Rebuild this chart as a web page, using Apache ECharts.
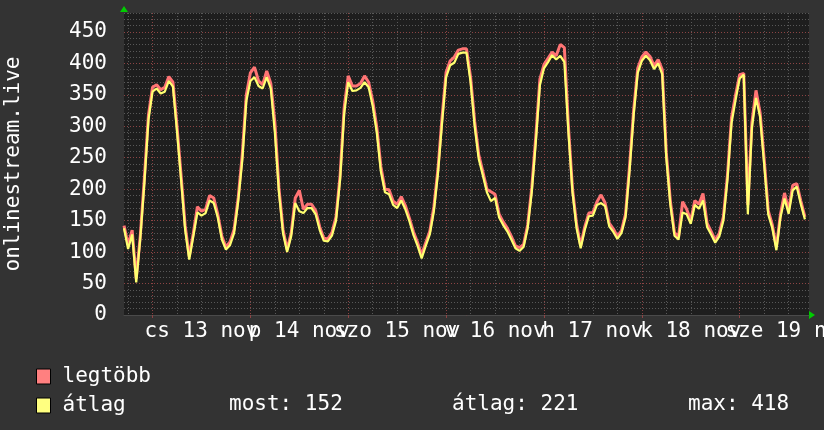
<!DOCTYPE html>
<html><head><meta charset="utf-8">
<script src="https://cdn.jsdelivr.net/npm/echarts@6/dist/echarts.min.js"></script>
<style>html,body{margin:0;padding:0;background:#333333;}#c{width:824px;height:430px;}</style>
</head><body><div id="c"></div>
<script>
// hours relative to 13 Nov 00:00
const START_HOUR = -7;
const END_HOUR = 161;
const dayLabels = ['cs 13 nov', 'p 14 nov', 'szo 15 nov', 'v 16 nov', 'h 17 nov', 'k 18 nov', 'sze 19 nov'];
const yTickStep = 50;
const seriesNames = ['legtöbb', 'átlag'];
const statLabels = ['most: 152', 'átlag: 221', 'max: 418'];
const yAxisName = 'onlinestream.live';

// átlag (average), one value per hour from START_HOUR
const avgValues = [
  138,105,128,52,122,210,310,
  355,360,352,355,372,363,292,215,135,88,125,163,158,162,182,178,155,120,104,111,130,180,245,340,
  372,378,364,360,378,360,290,195,130,100,125,178,165,162,170,170,160,135,118,117,126,150,215,320,
  370,356,357,361,370,362,332,290,228,195,192,175,170,182,168,149,127,110,90,110,128,165,225,305,
  378,397,401,415,417,417,370,300,248,222,195,181,186,155,143,133,120,106,102,108,138,195,275,365,
  392,402,413,406,412,402,290,195,138,106,135,157,158,175,178,173,141,132,121,130,155,230,318,385,
  404,412,405,391,400,383,250,175,126,120,163,160,145,175,169,182,140,128,115,125,150,215,305,342,
  376,382,160,298,345,315,240,160,138,103,155,185,161,198,204,176,152
];
// legtöbb (maximum), one value per hour from START_HOUR
const maxValues = [
  142,112,135,58,126,218,318,
  362,366,358,362,379,370,300,222,142,93,130,172,165,168,190,186,160,125,108,116,136,186,255,350,
  385,394,372,366,388,368,306,202,136,104,130,186,198,168,176,176,166,140,122,121,131,156,222,330,
  380,364,364,368,380,370,340,298,236,200,199,181,176,188,174,154,132,115,96,115,133,172,232,314,
  386,404,410,421,423,423,378,308,255,228,200,196,192,160,148,138,125,110,107,112,143,202,284,375,
  398,408,418,412,430,425,300,200,144,110,140,162,163,180,191,178,146,137,125,134,160,238,326,392,
  410,418,411,396,406,390,258,181,131,124,180,168,150,182,176,193,146,133,119,130,156,222,314,350,
  382,384,175,306,357,322,248,166,143,108,160,194,166,206,209,181,156
];

const hours = [];
for (let h = START_HOUR; h <= END_HOUR; h++) hours.push(String(h));

const FONT = 'DejaVu Sans Mono';
const FS = 21;
const GRID = {left: 124, right: 15, top: 13, bottom: 115};
const W = 824, H = 430;
const MINOR = '#585858', MAJOR = '#8c4444';

const mod = (a, n) => ((a % n) + n) % n;
// label axis: parity 0 = even days, 1 = odd days (two axes so overlapping labels are all drawn)
function labelAxis(parity, show) {
  return {
    type: 'category', data: hours, boundaryGap: false, position: 'bottom', offset: 0,
    axisLine: {show: show, lineStyle: {color: '#4a4a4a', width: 1}},
    axisTick: {show: show, length: 3, interval: (i, v) => mod(+v, 24) === 0, lineStyle: {color: MAJOR}},
    axisLabel: {
      interval: (i, v) => mod(+v, 24) === 12 && mod(Math.floor(+v / 24), 2) === parity,
      formatter: (v) => dayLabels[Math.floor((+v) / 24)] || '',
      showMinLabel: true, showMaxLabel: true, hideOverlap: false,
      alignMinLabel: 'center', alignMaxLabel: 'center',
      color: '#ffffff', fontFamily: FONT, fontSize: FS, margin: 6
    },
    splitLine: {show: show, interval: (i, v) => mod(+v, 6) === 0,
      lineStyle: {color: [MINOR, MAJOR, MINOR, MINOR], type: [1, 2], width: 1}}
  };
}

const chart = echarts.init(document.getElementById('c'), null, {renderer: 'canvas'});
chart.setOption({
  backgroundColor: '#333333',
  animation: false,
  textStyle: {fontFamily: FONT},
  grid: Object.assign({backgroundColor: '#1e1e1e', show: true, borderWidth: 0, containLabel: false, outerBoundsMode: 'none'}, GRID),
  xAxis: [labelAxis(0, true), labelAxis(1, false)],
  yAxis: {
    type: 'value', min: 0, max: 480, interval: 10,
    name: yAxisName, nameLocation: 'middle', nameRotate: 90, nameGap: 100,
    nameTextStyle: {color: '#ffffff', fontFamily: FONT, fontSize: FS},
    axisLine: {show: false},
    axisTick: {show: false},
    axisLabel: {formatter: (v) => (v % yTickStep === 0 ? String(v) : ''), color: '#ffffff', fontFamily: FONT, fontSize: FS, margin: 17},
    splitLine: {show: true, lineStyle: {color: [MAJOR, MINOR, MINOR, MINOR, MINOR], type: [1, 2], width: 1}}
  },
  legend: {
    orient: 'vertical', left: 31, top: 361, itemWidth: 14, itemHeight: 15, itemGap: 8,
    icon: 'rect', selectedMode: false,
    itemStyle: {borderColor: '#000000', borderWidth: 1},
    textStyle: {color: '#ffffff', fontFamily: FONT, fontSize: FS, padding: [0, 0, 0, 7]},
    data: seriesNames
  },
  graphic: [
    {type: 'polygon', shape: {points: [[GRID.left - 4, GRID.top - 1], [GRID.left + 4, GRID.top - 1], [GRID.left, GRID.top - 7]]}, style: {fill: '#00cc00'}},
    {type: 'polygon', shape: {points: [[W - GRID.right, H - GRID.bottom - 4], [W - GRID.right, H - GRID.bottom + 4], [W - GRID.right + 6, H - GRID.bottom]]}, style: {fill: '#00cc00'}},
    {type: 'text', left: 229, top: 394, style: {text: statLabels[0], fill: '#ffffff', font: FS + 'px "' + FONT + '"'}},
    {type: 'text', left: 452, top: 394, style: {text: statLabels[1], fill: '#ffffff', font: FS + 'px "' + FONT + '"'}},
    {type: 'text', left: 688, top: 394, style: {text: statLabels[2], fill: '#ffffff', font: FS + 'px "' + FONT + '"'}}
  ],
  series: [
    {name: seriesNames[0], type: 'line', xAxisIndex: 0, data: maxValues, showSymbol: false, symbol: 'none',
      color: '#ff8080', lineStyle: {color: '#ff7474', width: 3}, z: 2},
    {name: seriesNames[1], type: 'line', xAxisIndex: 0, data: avgValues, showSymbol: false, symbol: 'none',
      color: '#ffff80', lineStyle: {color: '#ffff70', width: 2.2}, z: 3}
  ]
});
</script></body></html>
